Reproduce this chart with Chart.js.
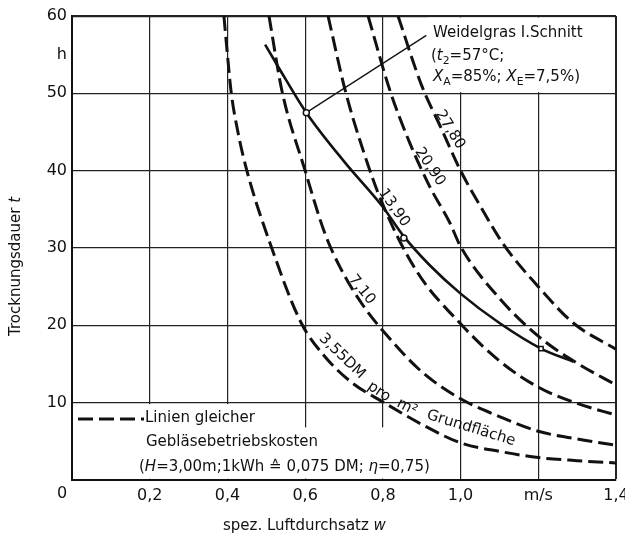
<!DOCTYPE html>
<html>
<head>
<meta charset="utf-8">
<script src="https://cdn.jsdelivr.net/npm/chart.js@4"></script>
<style>
  html, body { margin: 0; padding: 0; background: #fff; }
</style>
</head>
<body>
<canvas id="chart" width="625" height="545"></canvas>
<script>
// Axis ticks
const xTicks = [0, 0.2, 0.4, 0.6, 0.8, 1.0, 1.2, 1.4];
const xTickLabels = ['', '0,2', '0,4', '0,6', '0,8', '1,0', 'm/s', '1,4'];
const yTicks = [0, 10, 20, 30, 40, 50, 55, 60];
const yTickLabels = ['', '10', '20', '30', '40', '50', 'h', '60'];

// Lines of equal blower running cost (DM per m² floor area)
const cost355W = [0.391, 0.4, 0.41, 0.427, 0.45, 0.514, 0.59, 0.65, 0.72, 0.8, 0.9, 1.0, 1.1, 1.2, 1.3, 1.4];
const cost355T = [60, 55, 50, 45, 40, 30, 20.3, 16.0, 12.6, 10.1, 7.2, 4.8, 3.7, 2.9, 2.5, 2.2];
const cost710W = [0.507, 0.54, 0.6, 0.65, 0.69, 0.75, 0.8, 0.9, 1.0, 1.1, 1.2, 1.3, 1.4];
const cost710T = [60, 50.4, 40, 32, 27.5, 22.5, 19.3, 14.0, 10.5, 8.2, 6.3, 5.3, 4.5];
const cost1390W = [0.659, 0.703, 0.75, 0.8, 0.887, 1.0, 1.1, 1.2, 1.3, 1.4];
const cost1390T = [60, 50.4, 42.5, 35.6, 27, 20.2, 15.4, 12.0, 9.9, 8.4];
const cost2090W = [0.762, 0.818, 0.87, 0.92, 0.972, 1.0, 1.1, 1.2, 1.3, 1.4];
const cost2090T = [60, 50.4, 43.5, 38, 33.3, 30.2, 23.5, 18.6, 15.1, 12.3];
const cost2780W = [0.839, 0.9, 0.95, 1.0, 1.05, 1.11, 1.2, 1.29, 1.4];
const cost2780T = [60, 51, 45.5, 40, 35.5, 30.5, 25, 20.3, 16.9];

// Drying time of ryegrass, first cut
const ryeW = [0.497, 0.55, 0.603, 0.7, 0.8, 0.854, 0.92, 1.0, 1.1, 1.207, 1.29];
const ryeT = [56.3, 51.8, 47.5, 41.2, 35.3, 31.5, 27.8, 24.1, 20.3, 17.0, 15.3];
const markW = [0.603, 0.854, 1.207];
const markT = [47.5, 31.3, 17.0];
const leaderW = [0.603, 0.912];
const leaderT = [47.5, 57.5];

const FONT = '"DejaVu Sans"';
const INK = '#111';

const pts = (xs, ys) => xs.map((v, i) => ({ x: v, y: ys[i] }));

function costLine(xs, ys) {
  return {
    data: pts(xs, ys), showLine: true, borderColor: INK, borderWidth: 3,
    borderDash: [15, 6], pointRadius: 0, cubicInterpolationMode: 'monotone', fill: false
  };
}

// draw a line of text made of runs (italic / subscript)
function drawRuns(ctx, runs, x0, y0, size) {
  let cx = x0;
  runs.forEach(r => {
    const s = r.sub ? size * 0.72 : size;
    ctx.font = (r.it ? 'italic ' : '') + s + 'px ' + FONT;
    ctx.fillText(r.t, cx, y0 + (r.sub ? size * 0.32 : 0));
    cx += ctx.measureText(r.t).width;
  });
}

function rotated(ctx, text, px, py, deg, size) {
  ctx.save();
  ctx.translate(px, py);
  ctx.rotate(deg * Math.PI / 180);
  ctx.font = size + 'px ' + FONT;
  ctx.textAlign = 'center';
  ctx.textBaseline = 'middle';
  ctx.fillText(text, 0, 0);
  ctx.restore();
}

const notes = {
  id: 'notes',
  beforeDatasetsDraw(chart) {
    const { ctx, scales: { x, y } } = chart;
    ctx.save();
    ctx.fillStyle = '#fff';
    // panel behind the legend text
    const l = x.getPixelForValue(0) + 1.5, b = y.getPixelForValue(0) - 1.5;
    ctx.fillRect(l, y.getPixelForValue(10) + 1.5, x.getPixelForValue(0.5) - l, b - y.getPixelForValue(10) - 1.5);
    ctx.fillRect(l, y.getPixelForValue(6.8), x.getPixelForValue(0.92) - l, b - y.getPixelForValue(6.8));
    // panel behind the ryegrass note
    const t = y.getPixelForValue(60) + 1.5;
    ctx.fillRect(x.getPixelForValue(0.915), t, x.getPixelForValue(1.4) - 1.5 - x.getPixelForValue(0.915), y.getPixelForValue(50) - 1.2 - t);
    ctx.restore();
  },
  afterDraw(chart) {
    const { ctx, scales: { x, y } } = chart;
    ctx.save();
    ctx.fillStyle = INK;
    ctx.strokeStyle = INK;
    ctx.textBaseline = 'middle';

    // "0" at the origin
    ctx.font = '16px ' + FONT;
    ctx.textAlign = 'center';
    ctx.fillText('0', x.getPixelForValue(0) - 10, 494);

    // axis titles
    ctx.textAlign = 'left';
    drawRuns(ctx, [{ t: 'spez. Luftdurchsatz ' }, { t: 'w', it: true }], 223, 526, 15);
    ctx.save();
    ctx.translate(16, 336);
    ctx.rotate(-Math.PI / 2);
    drawRuns(ctx, [{ t: 'Trocknungsdauer ' }, { t: 't', it: true }], 0, 0, 15);
    ctx.restore();

    // labels along the cost lines
    const lab = [
      ['27,80', 0.973, 45.3, 58], ['20,90', 0.921, 40.5, 56],
      ['13,90', 0.829, 35.2, 55], ['7,10', 0.746, 24.6, 51],
      ['3,55DM', 0.695, 16.0, 44], ['pro', 0.79, 11.4, 34],
      ['m²', 0.862, 9.4, 27], ['Grundfläche', 1.027, 6.7, 17]
    ];
    lab.forEach(([s, w, h, a]) => rotated(ctx, s, x.getPixelForValue(w), y.getPixelForValue(h), a, 15));

    // ryegrass note
    ctx.textAlign = 'left';
    const nx = x.getPixelForValue(0.929);
    drawRuns(ctx, [{ t: 'Weidelgras I.Schnitt' }], nx, 33, 15);
    drawRuns(ctx, [{ t: '(' }, { t: 't', it: true }, { t: '2', sub: true }, { t: '=57°C;' }], nx - 2, 56, 15);
    drawRuns(ctx, [{ t: 'X', it: true }, { t: 'A', sub: true }, { t: '=85%; ' }, { t: 'X', it: true }, { t: 'E', sub: true }, { t: '=7,5%)' }], nx, 77, 15);

    // legend
    ctx.setLineDash([15, 6]);
    ctx.lineWidth = 3;
    ctx.beginPath();
    ctx.moveTo(78, 419);
    ctx.lineTo(144, 419);
    ctx.stroke();
    ctx.setLineDash([]);
    drawRuns(ctx, [{ t: 'Linien gleicher' }], 145, 418, 15);
    drawRuns(ctx, [{ t: 'Gebläsebetriebskosten' }], 146, 442, 15);
    drawRuns(ctx, [{ t: '(' }, { t: 'H', it: true }, { t: '=3,00m;1kWh ≙ 0,075 DM; ' }, { t: 'η', it: true }, { t: '=0,75)' }], 139, 467, 15);
    ctx.restore();
  }
};

new Chart(document.getElementById('chart'), {
  type: 'scatter',
  data: {
    datasets: [
      {
        data: pts(markW, markT), pointRadius: 3, pointStyle: ['circle', 'circle', 'rect'],
        pointBackgroundColor: '#fff', pointBorderColor: INK, pointBorderWidth: 1.5, showLine: false
      },
      { data: pts(leaderW, leaderT), showLine: true, borderColor: INK, borderWidth: 1.3, pointRadius: 0 },
      {
        data: pts(ryeW, ryeT), showLine: true, borderColor: INK, borderWidth: 2.6,
        pointRadius: 0, cubicInterpolationMode: 'monotone'
      },
      costLine(cost355W, cost355T),
      costLine(cost710W, cost710T),
      costLine(cost1390W, cost1390T),
      costLine(cost2090W, cost2090T),
      costLine(cost2780W, cost2780T)
    ]
  },
  options: {
    responsive: false,
    animation: false,
    events: [],
    layout: { padding: { top: 16, right: 9, left: 0, bottom: 0 } },
    plugins: { legend: { display: false }, tooltip: { enabled: false } },
    scales: {
      x: {
        type: 'linear', min: 0, max: 1.4,
        afterBuildTicks: s => { s.ticks = xTicks.map(v => ({ value: v })); },
        afterFit: s => { s.height = 65; s.paddingLeft = 0; s.paddingRight = 0; },
        ticks: {
          callback: (v, i) => xTickLabels[i], padding: 6, maxRotation: 0, autoSkip: false,
          color: INK, font: { family: 'DejaVu Sans', size: 16 }
        },
        grid: {
          color: '#222', drawTicks: false,
          lineWidth: c => (c.index === xTicks.length - 1 ? 2 : 1.2)
        },
        border: { color: INK, width: 2 }
      },
      y: {
        type: 'linear', min: 0, max: 60,
        afterBuildTicks: s => { s.ticks = yTicks.map(v => ({ value: v })); },
        afterFit: s => { s.width = 72; s.paddingTop = 0; s.paddingBottom = 0; },
        ticks: {
          callback: (v, i) => yTickLabels[i], padding: 5, autoSkip: false,
          color: INK, font: { family: 'DejaVu Sans', size: 16 }
        },
        grid: {
          drawTicks: false,
          color: c => (c.tick && c.tick.value === 55 ? 'rgba(0,0,0,0)' : '#222'),
          lineWidth: c => (c.tick && c.tick.value === 60 ? 2.2 : 1.2)
        },
        border: { color: INK, width: 2 }
      }
    }
  },
  plugins: [notes]
});
</script>
</body>
</html>
